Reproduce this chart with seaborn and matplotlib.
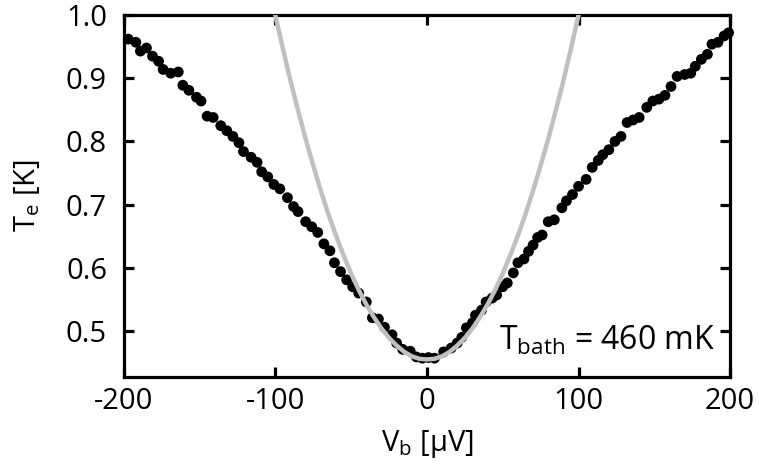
import matplotlib
matplotlib.use("Agg")
import matplotlib.pyplot as plt
import seaborn as sns
import pandas as pd

# measured points: bias voltage (µV) and electron temperature (K)
vb_data = [-197, -192, -189, -185, -181, -177, -174, -169, -164, -161, -157, -152, -149,
           -145, -141, -136, -132, -128, -124, -121, -116, -112, -109, -105, -101, -97,
           -92, -88, -85, -80, -76, -72, -68, -64, -61, -57, -53, -49, -45, -40, -36,
           -32, -28, -23, -20, -16, -11, -7, -3, 1, 5, 11, 16, 20, 23, 26, 30, 32, 36,
           39, 43, 46, 50, 53, 57, 60, 64, 67, 70, 73, 76, 80, 84, 89, 92, 96, 100, 105,
           109, 113, 116, 120, 124, 128, 132, 136, 140, 145, 149, 153, 157, 161, 165,
           170, 174, 177, 181, 185, 188, 192, 196, 199]
te_data = [0.962, 0.957, 0.943, 0.948, 0.935, 0.927, 0.914, 0.908, 0.910, 0.889, 0.881,
           0.870, 0.864, 0.840, 0.838, 0.825, 0.817, 0.808, 0.798, 0.784, 0.775, 0.767,
           0.752, 0.744, 0.732, 0.725, 0.711, 0.697, 0.689, 0.673, 0.665, 0.656, 0.638,
           0.627, 0.608, 0.594, 0.581, 0.570, 0.560, 0.546, 0.521, 0.519, 0.506, 0.494,
           0.481, 0.471, 0.468, 0.459, 0.457, 0.458, 0.457, 0.467, 0.473, 0.481, 0.490,
           0.505, 0.513, 0.525, 0.533, 0.546, 0.552, 0.557, 0.570, 0.576, 0.592, 0.608,
           0.614, 0.626, 0.636, 0.648, 0.652, 0.673, 0.676, 0.695, 0.706, 0.716, 0.729,
           0.740, 0.759, 0.770, 0.779, 0.787, 0.800, 0.808, 0.830, 0.834, 0.838, 0.854,
           0.864, 0.867, 0.873, 0.887, 0.903, 0.906, 0.908, 0.919, 0.930, 0.938, 0.954,
           0.957, 0.967, 0.972]

# gray model curve
vb_model = [-105, -100, -95, -90, -85, -80, -75, -70, -65, -60, -55, -50, -45, -40, -35,
            -30, -25, -20, -15, -10, -5, 0, 5, 10, 15, 20, 25, 30, 35, 40, 45, 50, 55,
            60, 65, 70, 75, 80, 85, 90, 95, 100, 105]
te_model = [1.056, 1.000, 0.947, 0.896, 0.849, 0.804, 0.762, 0.722, 0.685, 0.651, 0.620,
            0.591, 0.565, 0.542, 0.522, 0.504, 0.489, 0.477, 0.467, 0.460, 0.456, 0.455,
            0.456, 0.460, 0.467, 0.477, 0.489, 0.504, 0.522, 0.542, 0.565, 0.591, 0.620,
            0.651, 0.685, 0.722, 0.762, 0.804, 0.849, 0.896, 0.947, 1.000, 1.056]

x_ticks = [-200, -100, 0, 100, 200]
y_ticks = [0.5, 0.6, 0.7, 0.8, 0.9, 1.0]

sns.set_theme(style="ticks")
plt.rcParams['font.family'] = ['Open Sans', 'DejaVu Sans']
plt.rcParams['mathtext.fontset'] = 'custom'
plt.rcParams['mathtext.rm'] = 'Open Sans'
plt.rcParams['mathtext.it'] = 'Open Sans'
plt.rcParams['text.color'] = 'black'
plt.rcParams['axes.labelcolor'] = 'black'

fig = plt.figure(figsize=(7.59, 4.72), dpi=100)
ax = fig.add_axes([0.163, 0.201, 0.799, 0.767])

df_data = pd.DataFrame({"Vb": vb_data, "Te": te_data})
df_model = pd.DataFrame({"Vb": vb_model, "Te": te_model})

sns.lineplot(data=df_model, x="Vb", y="Te", ax=ax, color="#c0c0c0", linewidth=3.2, zorder=3)
sns.scatterplot(data=df_data, x="Vb", y="Te", ax=ax, color="black", s=60,
                edgecolor="none", zorder=2, clip_on=False)

ax.set_xlim(-200, 200)
ax.set_ylim(0.427, 1.0)
ax.set_xticks(x_ticks)
ax.set_yticks(y_ticks)
ax.set_xticklabels([str(t) for t in x_ticks])
ax.set_yticklabels([f"{t:.1f}" for t in y_ticks])

for sp in ax.spines.values():
    sp.set_linewidth(2.3)
    sp.set_color("black")
    sp.set_visible(True)
ax.tick_params(direction="in", length=7, width=2.3, labelsize=21,
               top=True, right=True, colors="black")
ax.tick_params(axis="y", pad=12)
ax.tick_params(axis="x", pad=7)

ax.set_xlabel(r"V$_\mathrm{b}$ [μV]", fontsize=21, labelpad=9)
ax.set_ylabel(r"T$_\mathrm{e}$ [K]", fontsize=21, labelpad=17)

ax.text(0.975, 0.055, r"T$_\mathrm{bath}$ = 460 mK", transform=ax.transAxes,
        ha="right", va="bottom", fontsize=23)

fig.savefig("out.png", dpi=100)
